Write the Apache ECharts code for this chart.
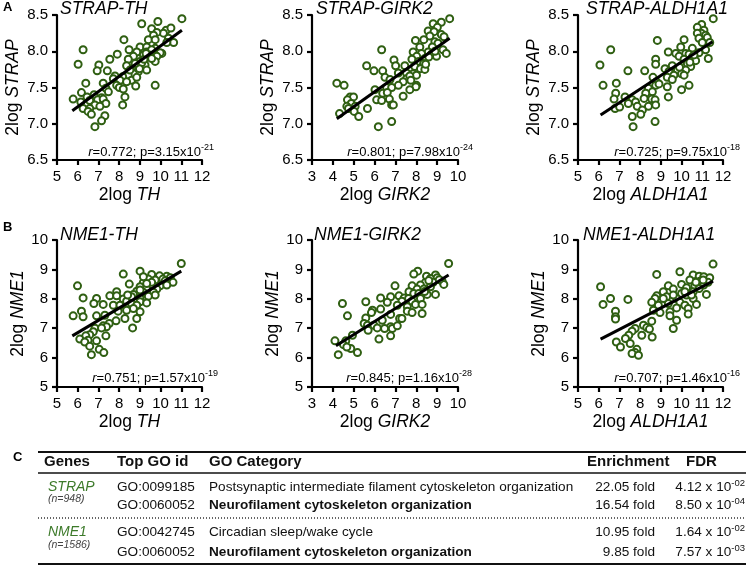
<!DOCTYPE html>
<html><head><meta charset="utf-8">
<script src="https://cdn.jsdelivr.net/npm/echarts@6/dist/echarts.min.js"></script>
<style>html,body{margin:0;padding:0;background:#fff}#c{width:747px;height:567px}</style>
</head><body><div id="c"></div>
<script>
// ---------- data ----------
const strapTH = [[11.03,8.45],[9.09,8.38],[9.87,8.41],[9.57,8.31],[10.27,8.29],[10.50,8.32],[10.14,8.25],[9.82,8.26],[9.66,8.22],[9.41,8.16],[9.74,8.16],[10.38,8.18],[10.63,8.12],[10.30,8.12],[8.23,8.16],[9.01,8.06],[9.33,8.06],[9.74,8.04],[8.48,8.02],[8.85,7.99],[6.26,8.02],[7.91,7.96],[7.55,7.89],[9.33,7.99],[9.57,8.02],[10.06,7.97],[9.98,7.98],[9.17,7.95],[9.41,7.92],[9.82,7.93],[9.74,7.86],[8.69,7.93],[8.44,7.89],[6.02,7.82],[7.02,7.81],[9.01,7.86],[9.25,7.81],[8.85,7.79],[8.36,7.80],[6.94,7.73],[7.43,7.73],[9.33,7.74],[8.93,7.72],[8.69,7.69],[8.44,7.67],[8.17,7.65],[7.80,7.66],[7.72,7.62],[8.04,7.60],[8.60,7.60],[8.85,7.64],[8.36,7.58],[6.39,7.56],[7.23,7.56],[7.88,7.53],[8.01,7.50],[8.80,7.52],[9.74,7.53],[7.36,7.49],[8.20,7.48],[6.18,7.43],[7.48,7.44],[6.79,7.40],[6.45,7.37],[8.28,7.37],[5.78,7.34],[7.15,7.36],[6.15,7.30],[6.58,7.32],[6.96,7.33],[7.23,7.34],[7.36,7.28],[6.83,7.26],[7.07,7.24],[8.17,7.26],[6.26,7.21],[6.58,7.21],[6.50,7.17],[6.66,7.13],[7.31,7.11],[7.15,7.04],[6.83,6.96],[9.09,7.84],[9.20,7.89],[8.98,7.76],[9.46,7.95],[9.57,7.90],[9.30,7.97],[8.52,7.74],[8.77,7.83]];
const strapGIRK2 = [[9.60,8.45],[9.20,8.40],[8.81,8.38],[9.01,8.33],[8.57,8.28],[8.85,8.27],[9.20,8.23],[9.33,8.20],[8.65,8.21],[8.36,8.16],[7.96,8.15],[8.89,8.13],[9.04,8.11],[8.77,8.06],[8.17,8.06],[6.34,8.02],[7.85,7.99],[8.57,7.99],[9.28,8.02],[8.25,7.97],[8.02,7.93],[8.73,7.96],[8.97,7.93],[9.44,7.97],[8.41,7.90],[6.93,7.88],[7.79,7.89],[8.11,7.86],[8.35,7.83],[5.62,7.80],[7.01,7.80],[7.45,7.80],[7.93,7.79],[8.20,7.76],[8.41,7.75],[5.97,7.73],[6.39,7.73],[7.14,7.70],[7.53,7.70],[7.85,7.69],[8.01,7.67],[6.50,7.64],[6.74,7.61],[7.53,7.62],[7.69,7.66],[7.74,7.60],[7.37,7.58],[4.19,7.56],[4.54,7.53],[7.14,7.53],[8.01,7.53],[7.98,7.51],[6.58,7.50],[6.82,7.50],[7.69,7.47],[6.02,7.47],[6.39,7.42],[6.61,7.43],[7.37,7.38],[4.83,7.37],[4.99,7.37],[4.70,7.33],[6.10,7.33],[6.34,7.32],[6.71,7.34],[4.88,7.28],[4.67,7.24],[5.07,7.24],[6.82,7.26],[6.90,7.26],[5.66,7.21],[4.75,7.21],[5.02,7.17],[4.32,7.14],[5.24,7.10],[6.82,7.03],[6.18,6.96],[8.60,7.92],[8.45,7.82],[8.90,8.00]];
const strapALDH1A1 = [[11.53,8.45],[10.97,8.37],[10.76,8.33],[11.08,8.29],[10.95,8.25],[11.16,8.22],[10.76,8.25],[10.84,8.18],[11.24,8.19],[11.36,8.12],[11.00,8.12],[8.83,8.15],[10.12,8.16],[6.58,8.02],[9.96,8.06],[10.52,8.04],[11.16,8.02],[9.36,7.99],[9.72,7.97],[10.20,7.97],[10.84,7.98],[10.36,7.96],[9.88,7.93],[10.52,7.92],[10.12,7.89],[11.29,7.90],[8.75,7.89],[10.68,7.87],[6.06,7.81],[8.75,7.82],[9.55,7.80],[10.00,7.80],[10.28,7.83],[10.44,7.79],[9.20,7.76],[9.80,7.74],[10.20,7.74],[7.41,7.73],[8.22,7.73],[9.39,7.72],[10.00,7.69],[9.63,7.67],[10.12,7.67],[8.62,7.64],[9.31,7.64],[9.55,7.61],[8.78,7.58],[6.85,7.56],[6.21,7.53],[8.75,7.53],[8.91,7.55],[9.31,7.51],[10.36,7.53],[10.00,7.47],[8.40,7.49],[8.59,7.44],[6.82,7.42],[8.27,7.42],[7.27,7.37],[9.36,7.37],[8.19,7.35],[8.56,7.34],[6.74,7.34],[7.62,7.33],[7.78,7.30],[8.72,7.33],[7.43,7.28],[7.86,7.24],[8.40,7.24],[8.75,7.26],[6.79,7.21],[7.01,7.23],[8.11,7.19],[8.03,7.13],[7.62,7.10],[8.72,7.03],[7.66,6.96],[10.40,7.85],[10.60,7.95],[9.90,7.78]];
const nme1TH = [[11.00,9.20],[9.01,8.94],[8.20,8.84],[9.57,8.83],[9.95,8.78],[10.30,8.77],[10.47,8.72],[10.11,8.67],[9.41,8.67],[9.74,8.64],[10.60,8.56],[8.49,8.50],[9.17,8.56],[5.99,8.44],[9.54,8.47],[9.98,8.44],[9.01,8.41],[9.33,8.35],[9.82,8.33],[8.85,8.26],[7.88,8.24],[9.66,8.22],[9.17,8.22],[8.69,8.15],[7.55,8.10],[7.88,8.10],[9.74,8.13],[6.26,8.03],[6.91,8.01],[9.01,8.01],[9.41,8.09],[8.20,7.99],[8.36,7.92],[6.78,7.84],[9.01,7.90],[8.60,7.84],[9.33,7.86],[7.72,7.78],[8.04,7.78],[8.85,7.78],[7.23,7.81],[8.69,7.67],[8.36,7.61],[7.95,7.58],[6.18,7.58],[9.01,7.56],[6.26,7.39],[6.91,7.42],[7.31,7.44],[8.28,7.33],[8.85,7.33],[5.78,7.42],[7.85,7.25],[7.52,7.16],[7.23,7.08],[7.39,7.05],[8.65,7.01],[6.83,7.00],[7.15,7.01],[6.75,6.88],[6.58,6.78],[6.39,6.74],[7.36,6.74],[6.10,6.63],[6.50,6.59],[6.91,6.57],[6.34,6.53],[6.58,6.39],[7.04,6.28],[7.26,6.17],[6.66,6.10],[9.17,8.75],[10.22,8.61],[9.57,8.56],[10.30,8.47],[9.33,8.52],[9.01,8.30],[8.60,8.07],[8.41,8.13]];
const nme1GIRK2 = [[9.55,9.20],[8.07,8.94],[7.88,8.84],[8.49,8.77],[8.92,8.81],[8.68,8.69],[9.00,8.72],[8.81,8.56],[9.24,8.60],[8.44,8.56],[9.32,8.49],[6.98,8.44],[8.20,8.47],[7.80,8.44],[8.68,8.41],[8.04,8.33],[8.36,8.33],[7.65,8.24],[7.88,8.18],[8.12,8.18],[8.92,8.15],[8.52,8.15],[7.17,8.10],[6.29,8.03],[6.77,8.07],[7.42,8.03],[7.63,8.01],[8.20,8.01],[4.46,7.84],[5.58,7.90],[6.61,7.88],[7.31,7.92],[7.80,7.92],[7.96,7.81],[8.28,7.81],[7.09,7.78],[7.57,7.73],[5.90,7.61],[6.29,7.65],[7.57,7.58],[5.85,7.53],[7.80,7.53],[8.28,7.50],[4.70,7.42],[6.77,7.47],[5.58,7.35],[7.20,7.33],[7.31,7.33],[6.37,7.27],[5.50,7.16],[5.66,7.10],[5.97,7.10],[6.77,7.05],[6.85,6.99],[6.13,7.01],[5.69,6.93],[4.94,6.76],[6.77,6.74],[6.21,6.63],[4.10,6.57],[4.62,6.57],[4.51,6.44],[4.86,6.31],[4.67,6.36],[5.18,6.17],[4.26,6.10],[7.09,7.08],[6.48,6.99],[8.60,8.62],[9.10,8.65],[8.40,8.25]];
const nme1ALDH1A1 = [[11.52,9.18],[9.92,8.92],[8.80,8.83],[10.56,8.81],[10.85,8.77],[11.07,8.75],[11.36,8.72],[10.40,8.64],[10.88,8.60],[11.28,8.56],[10.00,8.49],[9.36,8.44],[6.09,8.41],[10.64,8.44],[11.07,8.47],[10.24,8.38],[10.85,8.35],[9.60,8.33],[10.56,8.24],[9.12,8.24],[10.00,8.18],[11.20,8.15],[10.24,8.13],[8.80,8.10],[9.28,8.07],[6.57,8.01],[7.41,7.98],[8.72,8.01],[9.76,8.01],[10.56,8.01],[8.56,7.88],[9.36,7.84],[9.92,7.88],[10.72,7.81],[6.21,7.81],[8.88,7.78],[10.16,7.78],[10.32,7.67],[9.76,7.69],[6.81,7.58],[8.64,7.61],[8.96,7.53],[9.44,7.56],[10.32,7.48],[6.81,7.39],[6.81,7.31],[9.44,7.42],[8.56,7.24],[9.76,7.27],[8.16,7.10],[8.32,7.02],[8.45,6.97],[9.60,6.99],[7.76,6.99],[7.61,6.90],[7.45,6.76],[8.08,6.76],[8.58,6.70],[7.29,6.65],[6.85,6.53],[7.52,6.48],[7.05,6.36],[7.84,6.28],[7.76,6.17],[7.61,6.14],[7.92,6.08],[10.16,8.24],[10.48,8.13],[9.60,8.13],[9.12,8.01],[11.04,8.64],[10.69,8.56]];

const fitStrapTH = [[5.74,7.18],[11.03,8.29]];
const fitStrapGIRK2 = [[4.19,7.07],[9.60,8.18]];
const fitStrapALDH1A1 = [[6.09,7.12],[11.49,8.13]];
const fitNme1TH = [[5.74,6.74],[11.00,8.94]];
const fitNme1GIRK2 = [[4.15,6.40],[9.55,8.81]];
const fitNme1ALDH1A1 = [[6.09,6.63],[11.52,8.60]];

const titles = ['STRAP-TH','STRAP-GIRK2','STRAP-ALDH1A1','NME1-TH','NME1-GIRK2','NME1-ALDH1A1'];
const xGenes = ['TH','GIRK2','ALDH1A1','TH','GIRK2','ALDH1A1'];
const yGenes = ['STRAP','STRAP','STRAP','NME1','NME1','NME1'];
const rValues = ['0.772','0.801','0.725','0.751','0.845','0.707'];
const pMant = ['3.15','7.98','9.75','1.57','1.16','1.46'];
const pExp = ['-21','-24','-18','-19','-28','-16'];
const xMins = [5,3,5,5,3,5];
const xMaxs = [12,10,12,12,10,12];

const tblGenes = ['STRAP','NME1'];
const tblN = ['(n=948)','(n=1586)'];
const tblIds = ['GO:0099185','GO:0060052','GO:0042745','GO:0060052'];
const tblCats = ['Postsynaptic intermediate filament cytoskeleton organization','Neurofilament cytoskeleton organization','Circadian sleep/wake cycle','Neurofilament cytoskeleton organization'];
const tblBold = [false,true,false,true];
const tblEnrich = ['22.05 fold','16.54 fold','10.95 fold','9.85 fold'];
const tblFdrM = ['4.12','8.50','1.64','7.57'];
const tblFdrE = ['-02','-04','-02','-03'];

// ---------- layout ----------
const FF = 'Liberation Sans, Arial, sans-serif';
const GREEN = '#2f5f12';
const TGREEN = '#3d7a2a';
const cols = [{left:57,w:145},{left:312,w:146},{left:578,w:145}];
const rows = [{top:15,h:145,ymin:6.5,ymax:8.5,int:0.5,gap:35},{top:240,h:147,ymin:5,ymax:10,int:1,gap:29}];
const scatterData = [strapTH,strapGIRK2,strapALDH1A1,nme1TH,nme1GIRK2,nme1ALDH1A1];
const fitData = [fitStrapTH,fitStrapGIRK2,fitStrapALDH1A1,fitNme1TH,fitNme1GIRK2,fitNme1ALDH1A1];
const titleX = [60,316,586,60,314,583];
const rRight = [214,473,740,218,472,740];

const grid=[],xAxis=[],yAxis=[],series=[],graphic=[];
for(let i=0;i<6;i++){
  const r = rows[Math.floor(i/3)], c = cols[i%3];
  grid.push({left:c.left,top:r.top,width:c.w,height:r.h,containLabel:false,outerBoundsMode:'none'});
  xAxis.push({gridIndex:i,type:'value',min:xMins[i],max:xMaxs[i],interval:1,
    axisLine:{show:true,onZero:false,lineStyle:{color:'#000',width:2.2}},
    axisTick:{show:true,length:5,lineStyle:{color:'#000',width:2.2}},
    splitLine:{show:false},
    axisLabel:{color:'#000',fontSize:15,fontFamily:FF,margin:9},
    name:'2log {i|'+xGenes[i]+'}',nameLocation:'middle',nameGap:26,
    nameTextStyle:{color:'#000',fontSize:17.5,fontFamily:FF,rich:{i:{fontStyle:'italic',fontSize:17.5,fontFamily:FF,color:'#000'}}}});
  yAxis.push({gridIndex:i,type:'value',min:r.ymin,max:r.ymax,interval:r.int,
    axisLine:{show:true,onZero:false,lineStyle:{color:'#000',width:2.2}},
    axisTick:{show:true,length:5,lineStyle:{color:'#000',width:2.2}},
    splitLine:{show:false},
    axisLabel:{color:'#000',fontSize:15,fontFamily:FF,margin:9,formatter:v=> r.int<1? v.toFixed(1): String(v)},
    name:'2log {i|'+yGenes[i]+'}',nameLocation:'middle',nameGap:r.gap,
    nameTextStyle:{color:'#000',fontSize:17.5,fontFamily:FF,rich:{i:{fontStyle:'italic',fontSize:17.5,fontFamily:FF,color:'#000'}}}});
  series.push({type:'scatter',xAxisIndex:i,yAxisIndex:i,data:scatterData[i],symbol:'circle',symbolSize:7,
    itemStyle:{color:'#fff',borderColor:GREEN,borderWidth:2,opacity:1},silent:true,z:2});
  series.push({type:'line',xAxisIndex:i,yAxisIndex:i,data:fitData[i],symbol:'none',
    lineStyle:{color:'#000',width:3},silent:true,z:3});
  const ty = i<3 ? 9 : 235;
  graphic.push({type:'text',x:titleX[i],y:ty,style:{text:titles[i],fontSize:17.5,fontStyle:'italic',fontFamily:FF,fill:'#000',align:'left',verticalAlign:'middle'}});
  const ry = i<3 ? 152 : 378;
  graphic.push({type:'text',x:rRight[i],y:ry,style:{text:'{i|r}=' + rValues[i] + '; p=' + pMant[i] + 'x10{s|' + pExp[i] + '}',
    fontSize:13,fontFamily:FF,fill:'#000',align:'right',verticalAlign:'middle',lineHeight:18,
    rich:{i:{fontStyle:'italic',fontSize:13,fontFamily:FF,fill:'#000',lineHeight:18},s:{fontSize:9,fontFamily:FF,verticalAlign:'top',lineHeight:18}}}});
}
// panel letters
[['A',3,7],['B',3,227],['C',13,457]].forEach(l=>graphic.push({type:'text',x:l[1],y:l[2],style:{text:l[0],fontSize:13,fontWeight:'bold',fontFamily:FF,fill:'#000',verticalAlign:'middle'}}));
// table lines
const hl=(y,w,dash)=>graphic.push({type:'line',shape:{x1:38,y1:y,x2:746,y2:y},style:{stroke:dash?'#333':'#111',lineWidth:w,lineDash:dash||null}});
hl(452,2); hl(473,1.5); hl(518,1.5,[1,2]); hl(564,2.2);
// table header
const hdr=(t,x)=>graphic.push({type:'text',x:x,y:462,style:{text:t,fontSize:15,fontWeight:'bold',fontFamily:FF,fill:'#111',verticalAlign:'middle'}});
hdr('Genes',44); hdr('Top GO id',117); hdr('GO Category',209); hdr('Enrichment',587); hdr('FDR',686);
const rowY=[487,505.5,532,552];
for(let g=0;g<2;g++){
  graphic.push({type:'text',x:48,y:rowY[g*2],style:{text:tblGenes[g],fontSize:14,fontStyle:'italic',fontFamily:FF,fill:TGREEN,verticalAlign:'middle'}});
  graphic.push({type:'text',x:48,y:[499,545][g],style:{text:tblN[g],fontSize:10.5,fontStyle:'italic',fontFamily:FF,fill:'#444',verticalAlign:'middle'}});
}
for(let k=0;k<4;k++){
  const y=rowY[k];
  graphic.push({type:'text',x:117,y:y,style:{text:tblIds[k],fontSize:13.6,fontFamily:FF,fill:'#111',verticalAlign:'middle'}});
  graphic.push({type:'text',x:209,y:y,style:{text:tblCats[k],fontSize:13.6,fontWeight:tblBold[k]?'bold':'normal',fontFamily:FF,fill:'#111',verticalAlign:'middle'}});
  graphic.push({type:'text',x:655,y:y,style:{text:tblEnrich[k],fontSize:13.6,fontFamily:FF,fill:'#111',align:'right',verticalAlign:'middle'}});
  graphic.push({type:'text',x:745,y:y,style:{text:tblFdrM[k]+' x 10{s|'+tblFdrE[k]+'}',fontSize:13.6,fontFamily:FF,fill:'#111',align:'right',verticalAlign:'middle',lineHeight:18,
    rich:{s:{fontSize:9.5,fontFamily:FF,fill:'#111',verticalAlign:'top',lineHeight:18}}}});
}

const chart = echarts.init(document.getElementById('c'),null,{renderer:'canvas'});
chart.setOption({animation:false,backgroundColor:'#fff',grid,xAxis,yAxis,series,graphic});
</script></body></html>
